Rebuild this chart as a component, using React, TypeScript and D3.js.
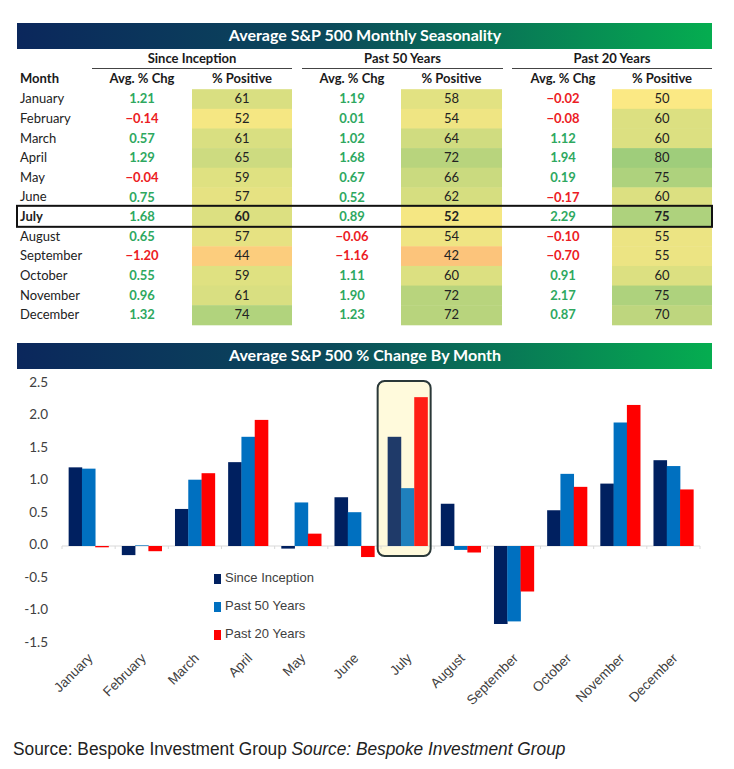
import React from 'react';
import * as d3 from 'd3';

const months = ['January', 'February', 'March', 'April', 'May', 'June', 'July', 'August', 'September', 'October', 'November', 'December'];
const sinceAvg = [1.21, -0.14, 0.57, 1.29, -0.04, 0.75, 1.68, 0.65, -1.20, 0.55, 0.96, 1.32];
const sincePos = [61, 52, 61, 65, 59, 57, 60, 57, 44, 59, 61, 74];
const past50Avg = [1.19, 0.01, 1.02, 1.68, 0.67, 0.52, 0.89, -0.06, -1.16, 1.11, 1.90, 1.23];
const past50Pos = [58, 54, 64, 72, 66, 62, 52, 54, 42, 60, 72, 72];
const past20Avg = [-0.02, -0.08, 1.12, 1.94, 0.19, -0.17, 2.29, -0.10, -0.70, 0.91, 2.17, 0.87];
const past20Pos = [50, 60, 60, 80, 75, 60, 75, 55, 55, 60, 75, 70];
const groupNames = ['Since Inception', 'Past 50 Years', 'Past 20 Years'];
const yTicks = [2.5, 2.0, 1.5, 1.0, 0.5, 0.0, -0.5, -1.0, -1.5];
const highlightMonth = 'July';

const W = 734;
const H = 769;
const tableFont = 'Lato, "Open Sans", sans-serif';
const narrowFont = '"Liberation Sans Narrow", "Arial Narrow", "Liberation Sans", sans-serif';
const green = '#2ea85f';
const red = '#ec1c24';
const seriesColours = ['#002060', '#0070c0', '#ff0000'];

const heat = d3.scaleLinear<string>()
    .domain([42, 50, 80])
    .range(['#fcc47b', '#fbe984', '#9fcd7b']);

// table geometry
const rowY = d3.scalePoint().domain(months).range([99, 315]);
const rowH = 19.6;
const groupCols = [
    { line: [92, 292], avgX: 142, posX: [192, 292] },
    { line: [302, 503], avgX: 352, posX: [401, 502] },
    { line: [512, 712], avgX: 563, posX: [612, 712] },
];

// chart geometry
const y = d3.scaleLinear().domain([0, 2.5]).range([546, 383.5]);
const x = d3.scaleBand().domain(months).range([62, 700]).paddingInner(0.25).paddingOuter(0.125);
const xs = d3.scaleBand().domain(['0', '1', '2']).range([0, x.bandwidth()]);

function TitleBar({ y0, h, text, id }: { y0: number, h: number, text: string, id: string }) {
    return (
        <g>
            <rect x={17} y={y0} width={695} height={h} fill={`url(#${id})`} />
            <text x={365} y={y0 + h / 2 + 1} textAnchor="middle" dominantBaseline="middle"
                fill="#fff" fontFamily={tableFont} fontWeight={700} fontSize={16}>{text}</text>
        </g>
    );
}

export default function App() {
    const avgs = [sinceAvg, past50Avg, past20Avg];
    const poss = [sincePos, past50Pos, past20Pos];
    const fmt = d3.format('.2f');
    const hx = x(highlightMonth)!;

    return (
        <svg width={W} height={H} viewBox={`0 0 ${W} ${H}`}
            style={{ position: 'absolute', left: 0, top: 0, background: '#fff' }}>
            <defs>
                {['g1', 'g2'].map(id => (
                    <linearGradient key={id} id={id} x1="0" x2="1" y1="0" y2="0">
                        <stop offset="0" stopColor="#0b275c" />
                        <stop offset="0.45" stopColor="#0b4a5b" />
                        <stop offset="1" stopColor="#05ad50" />
                    </linearGradient>
                ))}
            </defs>

            <TitleBar y0={23} h={26} text="Average S&P 500 Monthly Seasonality" id="g1" />

            {/* group headers */}
            {groupCols.map((g, i) => (
                <g key={i}>
                    <text x={(g.line[0] + g.line[1]) / 2} y={60} textAnchor="middle" dominantBaseline="middle"
                        fontFamily={tableFont} fontWeight={700} fontSize={13} fill="#1a1a1a">{groupNames[i]}</text>
                    <line x1={g.line[0]} x2={g.line[1]} y1={68.5} y2={68.5} stroke="#444" strokeWidth={1} />
                    <text x={g.avgX} y={80} textAnchor="middle" dominantBaseline="middle"
                        fontFamily={tableFont} fontWeight={700} fontSize={13} fill="#1a1a1a">Avg. % Chg</text>
                    <text x={(g.posX[0] + g.posX[1]) / 2} y={80} textAnchor="middle" dominantBaseline="middle"
                        fontFamily={tableFont} fontWeight={700} fontSize={13} fill="#1a1a1a">% Positive</text>
                </g>
            ))}
            <text x={20} y={80} dominantBaseline="middle" fontFamily={tableFont} fontWeight={700} fontSize={13} fill="#1a1a1a">Month</text>

            {/* heat cells */}
            {groupCols.map((g, i) => months.map((m, j) => (
                <rect key={`c${i}-${j}`} x={g.posX[0]} y={rowY(m)! - rowH / 2} width={g.posX[1] - g.posX[0]} height={rowH + 0.5}
                    fill={heat(poss[i][j])} />
            )))}

            {/* rows */}
            {months.map((m, j) => {
                const bold = m === highlightMonth ? 700 : 400;
                const cy = rowY(m)! + 1;
                return (
                    <g key={m} fontFamily={tableFont} fontSize={13}>
                        <text x={20} y={cy} dominantBaseline="middle" fill="#222" fontWeight={bold}>{m}</text>
                        {groupCols.map((g, i) => (
                            <g key={i}>
                                <text x={g.avgX} y={cy} textAnchor="middle" dominantBaseline="middle" fontWeight={700}
                                    fill={avgs[i][j] < 0 ? red : green}>{fmt(avgs[i][j])}</text>
                                <text x={(g.posX[0] + g.posX[1]) / 2} y={cy} textAnchor="middle" dominantBaseline="middle"
                                    fontWeight={bold} fill="#222">{poss[i][j]}</text>
                            </g>
                        ))}
                    </g>
                );
            })}
            <rect x={17} y={rowY(highlightMonth)! - 11} width={695} height={21} fill="none" stroke="#111" strokeWidth={2} />

            <TitleBar y0={343} h={26} text="Average S&P 500 % Change By Month" id="g2" />

            {/* highlight box behind bars */}
            <rect x={hx - 10} y={381} width={53} height={175} rx={7} fill="#fffbe3" />

            {/* y axis labels */}
            {yTicks.map(t => (
                <text key={t} x={48} y={y(t)} textAnchor="end" dominantBaseline="middle"
                    fontFamily={tableFont} fontSize={13.5} fill="#404040">{t.toFixed(1)}</text>
            ))}

            {/* zero line with ticks */}
            <line x1={62} x2={700} y1={y(0)} y2={y(0)} stroke="#d9d9d9" strokeWidth={1} />
            {d3.range(13).map(i => {
                const tx = 62 + i * x.step();
                return <line key={i} x1={tx} x2={tx} y1={y(0)} y2={y(0) + 3} stroke="#d9d9d9" />;
            })}

            {/* bars */}
            {months.map((m, j) => (
                <g key={m} transform={`translate(${x(m)},0)`}>
                    {avgs.map((s, i) => (
                        <rect key={i} x={xs(String(i))} width={xs.bandwidth() + 0.3}
                            y={Math.min(y(s[j]), y(0))} height={Math.abs(y(s[j]) - y(0))}
                            fill={seriesColours[i]} />
                    ))}
                </g>
            ))}

            {/* highlight box outline */}
            <rect x={hx - 10} y={381} width={53} height={175} rx={7} fill="#fff6b0" fillOpacity={0.12}
                stroke="#2a3838" strokeWidth={2} />

            {/* x labels */}
            {months.map(m => (
                <text key={m} transform={`translate(${x(m)! + x.bandwidth() / 2 + 5},659) rotate(-45)`}
                    textAnchor="end" fontFamily={narrowFont} fontSize={13.5} fill="#404040">{m}</text>
            ))}

            {/* legend */}
            {groupNames.map((n, i) => (
                <g key={n} transform={`translate(214,${579 + i * 28})`}>
                    <rect x={0} y={-5} width={7} height={10} fill={seriesColours[i]} />
                    <text x={11} y={0} dominantBaseline="middle" fontFamily={narrowFont} fontSize={13} fill="#404040">{n}</text>
                </g>
            ))}

            {/* source */}
            <g transform="translate(13,755) scale(0.91,1)">
                <text x={0} y={0} fontFamily={narrowFont} fontSize={19} fill="#222">
                    Source: Bespoke Investment Group <tspan fontStyle="italic">Source: Bespoke Investment Group</tspan>
                </text>
            </g>
        </svg>
    );
}
